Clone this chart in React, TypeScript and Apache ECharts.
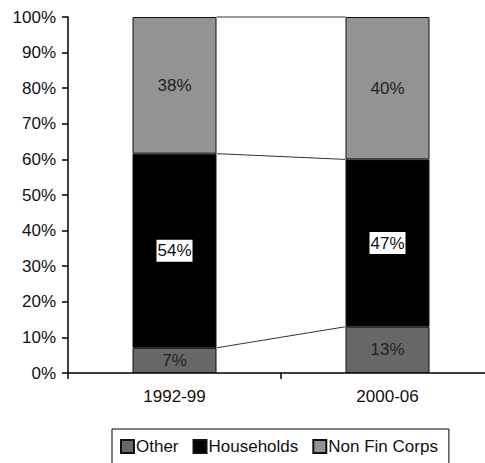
import React, { useEffect, useRef } from "react";
import * as echarts from "echarts";

// Periods on the category axis
const periods = ["1992-99", "2000-06"];
// Shares by sector, in percent, per period
const other = [7, 13];
const households = [54, 47];
const nonFinCorps = [38, 40];
// Value axis ticks
const yTicks = [0, 10, 20, 30, 40, 50, 60, 70, 80, 90, 100];

const FONT = "'Liberation Sans', Arial, sans-serif";
const FS = 17;
const BAR_WIDTH = 84;

export default function App() {
  const ref = useRef<HTMLDivElement>(null);

  useEffect(() => {
    if (!ref.current) return;
    const chart = echarts.init(ref.current, undefined, { renderer: "svg" });

    // 100% stacked: each column is scaled to its own total
    const totals = periods.map((_, i) => other[i] + households[i] + nonFinCorps[i]);
    const share = (arr: number[]) => arr.map((v, i) => (v / totals[i]) * 100);
    const sOther = share(other);
    const sHouse = share(households);
    const sNfc = share(nonFinCorps);

    // cumulative levels where series lines join the two columns
    const levels = [
      [0, sOther[0], sOther[1]],
      [0, sOther[0] + sHouse[0], sOther[1] + sHouse[1]],
      [0, sOther[0] + sHouse[0] + sNfc[0], sOther[1] + sHouse[1] + sNfc[1]],
    ];

    const raw = [other, households, nonFinCorps];
    const labelFmt = (k: number) => (p: any) => `${raw[k][p.dataIndex]}%`;

    const barBase = {
      type: "bar" as const,
      stack: "total",
      barWidth: BAR_WIDTH,
      itemStyle: { borderColor: "#111", borderWidth: 1 },
    };

    chart.setOption({
      animation: false,
      backgroundColor: "#fff",
      textStyle: { fontFamily: FONT },
      grid: {
        left: 68,
        top: 17,
        width: 426,
        bottom: 90,
        containLabel: false,
        outerBoundsMode: "none",
      },
      legend: {
        left: 112,
        top: 429,
        data: ["Other", "Households", "Non Fin Corps"],
        borderColor: "#000",
        borderWidth: 1,
        padding: [9, 11, 12, 8],
        itemWidth: 13,
        itemHeight: 13,
        itemGap: 14,
        icon: "rect",
        textStyle: { fontFamily: FONT, fontSize: FS, color: "#111", padding: [0, 0, 0, -3] },
      },
      xAxis: {
        type: "category",
        data: periods,
        axisLine: { lineStyle: { color: "#000", width: 1.5 } },
        axisTick: { show: true, length: 6, lineStyle: { color: "#000", width: 1.5 } },
        axisLabel: { fontFamily: FONT, fontSize: FS, color: "#111", margin: 15 },
      },
      yAxis: {
        type: "value",
        min: yTicks[0],
        max: yTicks[yTicks.length - 1],
        interval: 10,
        axisLine: { show: true, lineStyle: { color: "#000", width: 1.5 } },
        axisTick: { show: true, length: 6, lineStyle: { color: "#000", width: 1.5 } },
        splitLine: { show: false },
        axisLabel: { fontFamily: FONT, fontSize: FS, color: "#111", margin: 12, formatter: "{value}%" },
      },
      series: [
        {
          ...barBase,
          name: "Other",
          data: sOther,
          itemStyle: { ...barBase.itemStyle, color: "#676767" },
          label: { show: true, position: "inside", formatter: labelFmt(0), fontFamily: FONT, fontSize: FS, color: "#222" },
        },
        {
          ...barBase,
          name: "Households",
          data: sHouse,
          itemStyle: { ...barBase.itemStyle, color: "#000" },
          label: {
            show: true,
            position: "inside",
            formatter: labelFmt(1),
            fontFamily: FONT,
            fontSize: FS,
            color: "#111",
            backgroundColor: "#fff",
            padding: [3, 1, 2, 1],
          },
        },
        {
          ...barBase,
          name: "Non Fin Corps",
          data: sNfc,
          itemStyle: { ...barBase.itemStyle, color: "#939393" },
          label: { show: true, position: "inside", formatter: labelFmt(2), fontFamily: FONT, fontSize: FS, color: "#222" },
        },
        {
          type: "custom",
          name: "series lines",
          silent: true,
          z: 1,
          data: levels,
          encode: { x: 0, y: 1 },
          renderItem: (_params: any, api: any) => {
            const p1 = api.coord([0, api.value(1)]);
            const p2 = api.coord([1, api.value(2)]);
            const half = BAR_WIDTH / 2;
            return {
              type: "line",
              shape: { x1: p1[0] + half, y1: p1[1], x2: p2[0] - half, y2: p2[1] },
              style: { stroke: "#333", lineWidth: 1 },
            };
          },
        },
      ],
    });

    return () => chart.dispose();
  }, []);

  return (
    <div
      ref={ref}
      style={{ position: "fixed", left: 0, top: 0, width: 485, height: 463 }}
    />
  );
}
